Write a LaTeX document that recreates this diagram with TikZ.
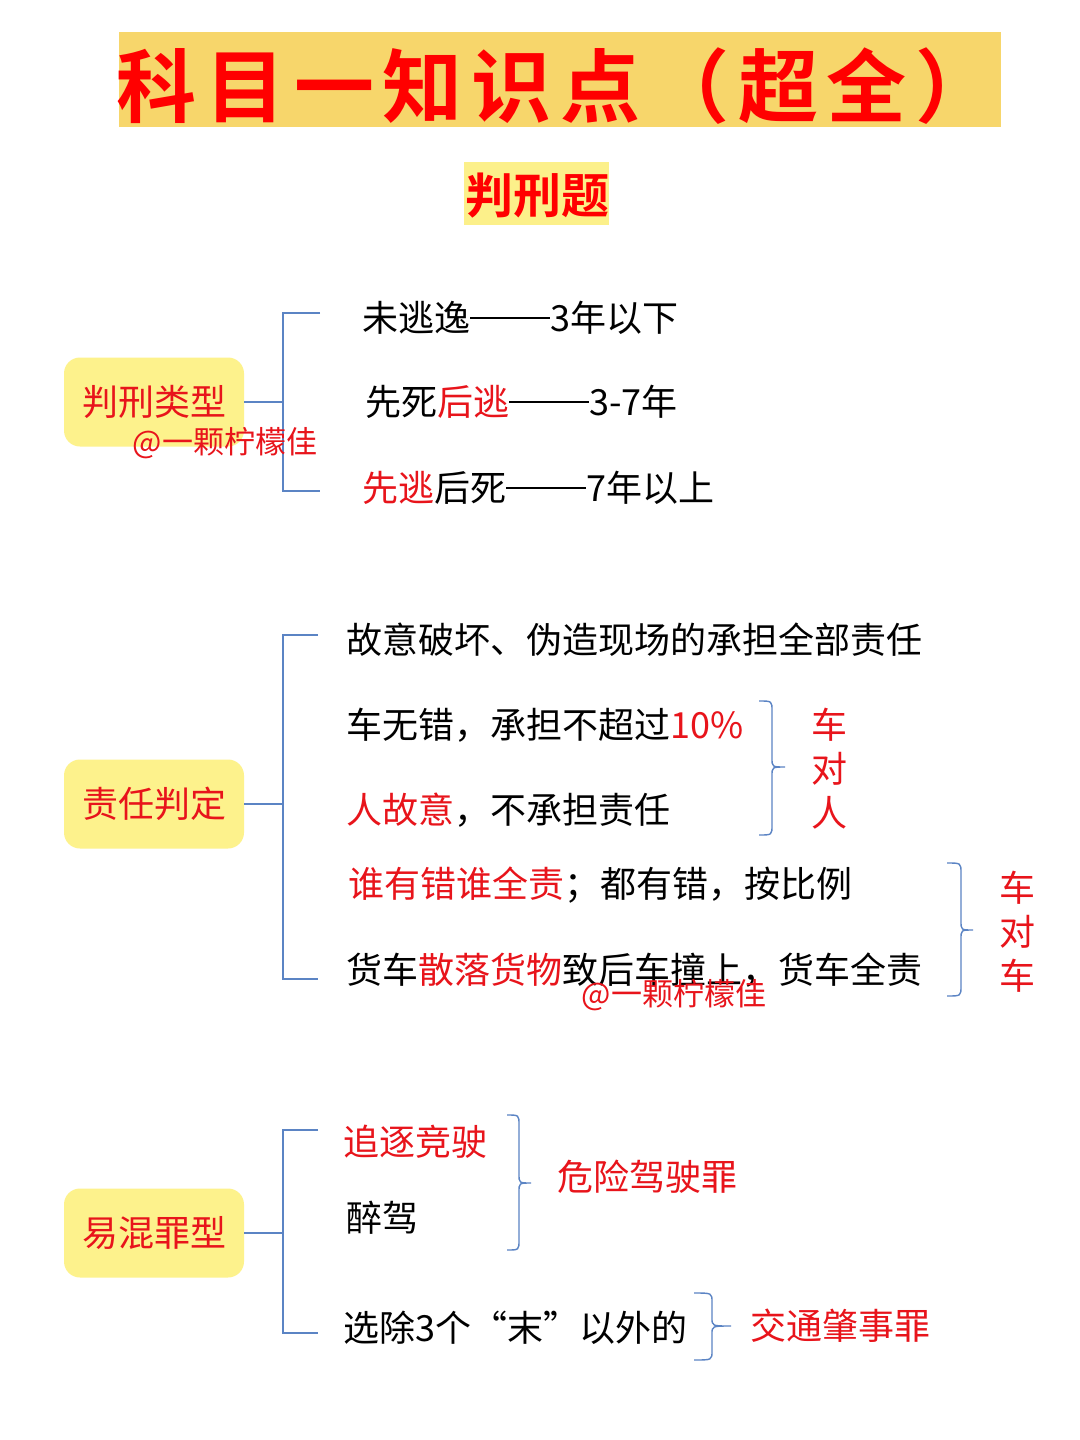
\documentclass[tikz,border=0pt]{standalone}
\usepackage{fontspec}
\setmainfont{Noto Sans CJK SC}[BoldFont={Noto Sans CJK SC Bold}]
\definecolor{banner}{HTML}{F7D66B}
\definecolor{boxy}{HTML}{FDF28C}
\definecolor{subbg}{HTML}{FCF08A}
\definecolor{rd}{HTML}{E8141B}
\definecolor{titlered}{HTML}{FF0000}
\definecolor{ln}{HTML}{5B84C4}
\newcommand{\ddash}{\rule[6.3pt]{40pt}{0.9pt}}
\tikzset{
  txt/.style={anchor=west, inner sep=0pt, font=\fontsize{18pt}{20pt}\selectfont},
  cat/.style={rounded corners=8pt, fill=boxy, minimum width=90pt, minimum height=44.5pt,
    inner sep=0pt, text=rd, font=\fontsize{18pt}{20pt}\selectfont},
  conn/.style={draw=ln, line width=0.7pt},
  wm/.style={text=rd, inner sep=0pt, font=\fontsize{15.5pt}{17pt}\selectfont},
  vlab/.style={text=rd, inner sep=0pt, align=center, font=\fontsize{18pt}{22pt}\selectfont},
  rlab/.style={txt, text=rd},
}
\begin{document}
\begin{tikzpicture}[x=0.5pt, y=-0.5pt]
\useasboundingbox (0,0) rectangle (1080,1440);
\fill[white] (0,0) rectangle (1080,1440);

% title
\node[fill=banner, minimum width=441pt, minimum height=47.5pt, inner sep=0pt] (banner) at (560,79.5) {};
\node[inner sep=0pt, text=titlered, font=\fontsize{40pt}{42pt}\selectfont\bfseries\addfontfeature{LetterSpace=11}] (title) at (556,86) {科目一知识点（超全）};
\node[fill=subbg, minimum width=72.5pt, minimum height=31.5pt, inner sep=0pt] (subbox) at (536.5,193.5) {};
\node[inner sep=0pt, text=titlered, font=\fontsize{24pt}{26pt}\selectfont\bfseries] (sub) at (537,196) {判刑题};

% section 1
\node[cat] (b1) at (154,402) {判刑类型};
\node[txt] (t11) at (362,318) {未逃逸\ddash 3年以下};
\node[txt] (t12) at (365,402) {先死\textcolor{rd}{后逃}\ddash 3-7年};
\node[txt] (t13) at (362,488) {\textcolor{rd}{先逃}后死\ddash 7年以上};
\coordinate (k1) at (283,402);
\coordinate (k1t) at (320,313);
\coordinate (k1b) at (320,491);
\draw[conn] (b1.east) -- (k1);
\draw[conn] (k1t) -| (k1) |- (k1b);
\node[wm] (w1) at (225,443) {@一颗柠檬佳};

% section 2
\node[cat] (b2) at (154,804) {责任判定};
\node[txt] (t21) at (346,640) {故意破坏、伪造现场的承担全部责任};
\node[txt] (t22) at (346,725) {车无错，承担不超过\textcolor{rd}{10\%}};
\node[txt] (t23) at (346,810) {\textcolor{rd}{人故意}，不承担责任};
\node[txt] (t24) at (348,885) {\textcolor{rd}{谁有错谁全责}；都有错，按比例};
\node[txt] (t25) at (346,970) {货车\textcolor{rd}{散落货物}致后车撞上，货车全责};
\coordinate (k2) at (283,804);
\coordinate (k2t) at (318,635);
\coordinate (k2b) at (318,979);
\draw[conn] (b2.east) -- (k2);
\draw[conn] (k2t) -| (k2) |- (k2b);
\node[wm] (w2) at (674,995) {@一颗柠檬佳};
% brace A
\coordinate (tipA) at (785,767);
\draw[conn] (759,701) .. controls (772,701) .. (772,711) -- (772,758)
  .. controls (772,767) .. (tipA) .. controls (772,767) .. (772,776)
  -- (772,825) .. controls (772,835) .. (759,835);
\node[vlab] (vA) at (829,769) {车\\对\\人};
% brace B
\coordinate (tipB) at (973,930);
\draw[conn] (947,863) .. controls (961,863) .. (961,873) -- (961,921)
  .. controls (961,930) .. (tipB) .. controls (961,930) .. (961,939)
  -- (961,986) .. controls (961,996) .. (947,996);
\node[vlab] (vB) at (1017,932) {车\\对\\车};

% section 3
\node[cat] (b3) at (154,1233) {易混罪型};
\node[rlab] (t31) at (343,1142) {追逐竞驶};
\node[txt] (t32) at (346,1218) {醉驾};
\node[txt] (t33) at (343,1328) {选除3个“末”以外的};
\coordinate (k3) at (283,1233);
\coordinate (k3t) at (318,1130);
\coordinate (k3b) at (318,1333);
\draw[conn] (b3.east) -- (k3);
\draw[conn] (k3t) -| (k3) |- (k3b);
% brace C
\coordinate (tipC) at (531,1183);
\draw[conn] (507,1115) .. controls (519,1115) .. (519,1125) -- (519,1174)
  .. controls (519,1183) .. (tipC) .. controls (519,1183) .. (519,1192)
  -- (519,1240) .. controls (519,1250) .. (507,1250);
\node[rlab] (t34) at (557,1177) {危险驾驶罪};
% brace D
\coordinate (tipD) at (731,1326);
\draw[conn] (694,1293) .. controls (712,1293) .. (712,1302) -- (712,1318)
  .. controls (712,1326) .. (tipD) .. controls (712,1326) .. (712,1334)
  -- (712,1351) .. controls (712,1360) .. (694,1360);
\node[rlab] (t35) at (750,1326) {交通肇事罪};
\end{tikzpicture}
\end{document}
